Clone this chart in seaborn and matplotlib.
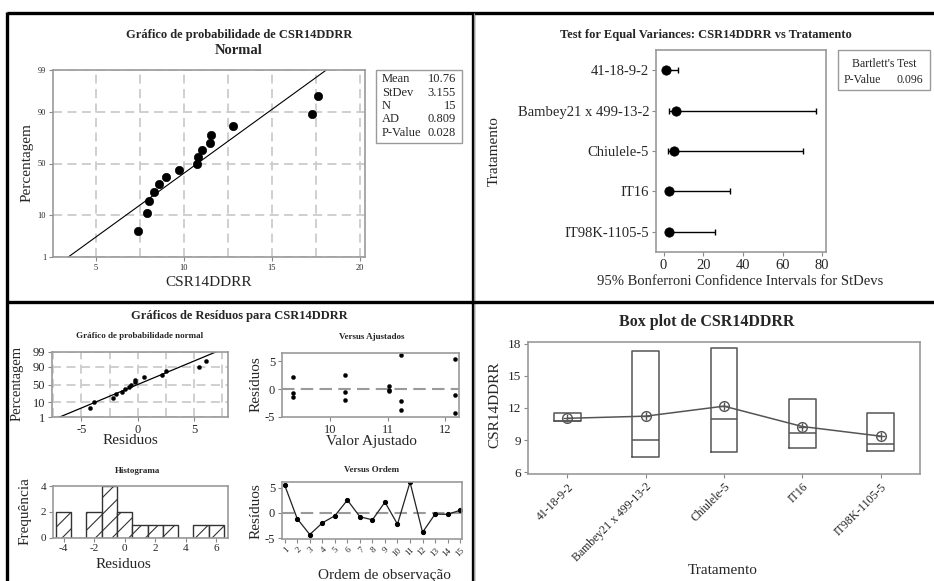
import numpy as np
import pandas as pd
import matplotlib
matplotlib.use("Agg")
import matplotlib.pyplot as plt
import seaborn as sns
from matplotlib.lines import Line2D
from matplotlib.patches import Rectangle
from statistics import NormalDist

# ---------------- data ----------------
ordem = list(range(1, 16))
tratamento = (["Chiulele-5"] * 3 + ["IT16"] * 3 + ["IT98K-1105-5"] * 3
              + ["Bambey21 x 499-13-2"] * 3 + ["41-18-9-2"] * 3)
csr = [17.6, 11.0, 7.9, 8.3, 9.7, 12.8, 8.6, 8.0, 11.5, 9.0, 17.3, 7.4, 10.8, 10.75, 11.55]
categorias = ["41-18-9-2", "Bambey21 x 499-13-2", "Chiulele-5", "IT16", "IT98K-1105-5"]

sd_est = [1.3, 6.2, 5.5, 3.0, 2.8]
sd_low = [0.3, 2.7, 2.3, 1.5, 1.5]
sd_high = [7.3, 76.8, 70.3, 33.6, 25.7]
bartlett_p = "0.096"

stats_labels = ["Mean", "StDev", "N", "AD", "P-Value"]
stats_values = ["10.76", "3.155", "15", "0.809", "0.028"]
fit_mean = 10.76
fit_sd = 3.155

pct_ticks = [1, 10, 50, 90, 99]
hist_edges = [-4.5, -3.5, -2.5, -1.5, -0.5, 0.5, 1.5, 2.5, 3.5, 4.5, 5.5, 6.5]

# ---------------- derived ----------------
df = pd.DataFrame({"Ordem": ordem, "Tratamento": tratamento, "CSR14DDRR": csr})
df["Ajustado"] = df.groupby("Tratamento")["CSR14DDRR"].transform("mean")
df["Residuo"] = df["CSR14DDRR"] - df["Ajustado"]
nd = NormalDist()
n = len(df)
ranks = [(i - 0.3) / (n + 0.4) for i in range(1, n + 1)]
zr = np.array([nd.inv_cdf(p) for p in ranks])
ztick = [nd.inv_cdf(p / 100) for p in pct_ticks]
zlo, zhi = nd.inv_cdf(0.01), nd.inv_cdf(0.99)

# ---------------- style ----------------
sns.set_style("white")
plt.rcParams["font.family"] = ["Liberation Serif", "DejaVu Serif"]
plt.rcParams["hatch.linewidth"] = 0.8
plt.rcParams["axes.unicode_minus"] = False
W, H = 934, 581
fig = plt.figure(figsize=(W / 100, H / 100), dpi=100)


def rect(l, t, r, b):
    return [l / W, 1 - b / H, (r - l) / W, (b - t) / H]


def ftext(x, y, s, **kw):
    kw.setdefault("ha", "center")
    kw.setdefault("va", "center")
    fig.text(x / W, 1 - y / H, s, **kw)


def style_ax(ax, fs=9):
    for sp in ax.spines.values():
        sp.set_color("#9a9a9a")
        sp.set_linewidth(1.2)
    ax.tick_params(axis="both", length=3, width=0.8, color="#888888",
                   labelsize=fs, pad=2, bottom=True, left=True)
    ax.set_xlabel("")
    ax.set_ylabel("")


GRID = dict(color="#cccccc", linestyle=(0, (5, 3)), linewidth=1.3, zorder=0)

# ======== Top-left: normal probability plot ========
ax1 = fig.add_axes(rect(53, 70, 365, 257))
xs = np.sort(df["CSR14DDRR"].values)
for gx in np.arange(5, 20.1, 2.5):
    ax1.axvline(gx, **GRID)
for gz in ztick:
    ax1.axhline(gz, **GRID)
zline = np.linspace(-3, 3, 50)
sns.lineplot(x=fit_mean + fit_sd * zline, y=zline, color="black", lw=0.8, ax=ax1, sort=False)
sns.scatterplot(x=xs, y=zr, color="black", s=36, edgecolor="black", ax=ax1, zorder=5)
ax1.set_xlim(2.55, 20.3)
ax1.set_ylim(zlo, zhi)
ax1.set_xticks([5, 10, 15, 20])
ax1.set_yticks(ztick)
ax1.set_yticklabels([str(p) for p in pct_ticks])
style_ax(ax1, fs=6)
ftext(239, 35, "Gráfico de probabilidade de CSR14DDRR", fontsize=9, fontweight="bold")
ftext(239, 50, "Normal", fontsize=10.5, fontweight="bold")
ftext(209, 283, "CSR14DDRR", fontsize=11)
ftext(27, 163, "Percentagem", fontsize=11, rotation=90)
fig.add_artist(Rectangle((376 / W, 1 - 143 / H), 86 / W, 73 / H, transform=fig.transFigure,
                         fill=False, edgecolor="#9a9a9a", lw=1))
for i, (lab, val) in enumerate(zip(stats_labels, stats_values)):
    yy = 79 + i * 13.5
    ftext(382, yy, lab, fontsize=9, ha="left")
    ftext(456, yy, val, fontsize=9, ha="right")

# ======== Top-right: test for equal variances ========
ax2 = fig.add_axes(rect(656, 50, 826, 252))
ypos = np.arange(len(categorias))
sd_est_a = np.array(sd_est)
ax2.errorbar(sd_est_a, ypos, xerr=[sd_est_a - np.array(sd_low), np.array(sd_high) - sd_est_a],
             fmt="none", ecolor="black", elinewidth=1, capsize=2.5, capthick=1)
sns.scatterplot(x=sd_est_a, y=ypos, color="black", s=45, edgecolor="black", ax=ax2, zorder=5)
ax2.set_xlim(-3.8, 81.9)
ax2.set_ylim(4.5, -0.5)
ax2.set_yticks(ypos)
ax2.set_yticklabels(categorias)
ax2.set_xticks([0, 20, 40, 60, 80])
style_ax(ax2, fs=10.5)
ftext(706, 35, "Test for Equal Variances: CSR14DDRR vs Tratamento", fontsize=9, fontweight="bold")
ftext(740, 282, "95% Bonferroni Confidence Intervals for StDevs", fontsize=10.5)
ftext(494, 151, "Tratamento", fontsize=11, rotation=90)
fig.add_artist(Rectangle((838 / W, 1 - 90 / H), 92 / W, 40 / H, transform=fig.transFigure,
                         fill=False, edgecolor="#9a9a9a", lw=1))
ftext(884, 64, "Bartlett's Test", fontsize=8.5)
ftext(844, 80, "P-Value", fontsize=8.5, ha="left")
ftext(923, 80, bartlett_p, fontsize=8.5, ha="right")

# ======== Bottom-left: residual plots ========
ftext(239, 316, "Gráficos de Resíduos para CSR14DDRR", fontsize=9, fontweight="bold")

# probability plot of residuals
ax3 = fig.add_axes(rect(52, 352, 228, 417))
rs = np.sort(df["Residuo"].values)
rsd = df["Residuo"].std()
for gx in np.arange(-7.5, 8.1, 2.5):
    ax3.axvline(gx, **GRID)
for gz in ztick:
    ax3.axhline(gz, **GRID)
sns.lineplot(x=rsd * zline, y=zline, color="black", lw=0.9, ax=ax3, sort=False)
sns.scatterplot(x=rs, y=zr, color="black", s=9, edgecolor="black", ax=ax3, zorder=5)
ax3.set_xlim(-7.6, 8.0)
ax3.set_ylim(zlo, zhi)
ax3.set_xticks([-5, 0, 5])
ax3.set_yticks(ztick)
ax3.set_yticklabels([str(p) for p in pct_ticks])
style_ax(ax3, fs=9)
ftext(140, 336, "Gráfico de probabilidade normal", fontsize=6.5, fontweight="bold")
ftext(130, 441, "Residuos", fontsize=11)
ftext(17, 383, "Percentagem", fontsize=10.5, rotation=90)

# versus fitted
ax4 = fig.add_axes(rect(282, 353, 459, 417))
ax4.axhline(0, color="#9a9a9a", linestyle=(0, (6, 3)), lw=1.5, zorder=0)
sns.scatterplot(data=df, x="Ajustado", y="Residuo", color="black", s=9, edgecolor="black", ax=ax4)
ax4.set_xlim(9.17, 12.24)
ax4.set_ylim(-5.05, 6.5)
ax4.set_xticks([10, 11, 12])
ax4.set_yticks([-5, 0, 5])
style_ax(ax4, fs=9)
ftext(372, 337, "Versus Ajustados", fontsize=6.5, fontweight="bold")
ftext(371, 441, "Valor Ajustado", fontsize=11)
ftext(256, 384, "Resíduos", fontsize=11, rotation=90)

# histogram
ax5 = fig.add_axes(rect(53, 486, 228, 537.5))
sns.histplot(data=df, x="Residuo", bins=hist_edges, stat="count", color="white",
             edgecolor="#333333", linewidth=1, hatch="//", ax=ax5)
for p in ax5.patches:
    p.set_facecolor("white")
    p.set_alpha(1)
ax5.set_xlim(-4.69, 6.76)
ax5.set_ylim(0, 4.03)
ax5.set_xticks([-4, -2, 0, 2, 4, 6])
ax5.set_yticks([0, 2, 4])
style_ax(ax5, fs=8)
ftext(138, 471, "Histograma", fontsize=6.5, fontweight="bold")
ftext(123, 564, "Residuos", fontsize=11)
ftext(25, 511, "Frequência", fontsize=11, rotation=90)

# versus order
ax6 = fig.add_axes(rect(282, 482, 462, 539))
ax6.axhline(0, color="#9a9a9a", linestyle=(0, (6, 3)), lw=1.5, zorder=0)
sns.lineplot(data=df, x="Ordem", y="Residuo", color="#222222", lw=0.9, marker="o",
             markersize=3, markeredgecolor="black", markerfacecolor="black", ax=ax6)
ax6.set_xlim(0.78, 15.15)
ax6.set_ylim(-5.15, 6.1)
ax6.set_xticks(ordem)
ax6.set_xticklabels([str(o) for o in ordem], rotation=45, ha="right", rotation_mode="anchor")
ax6.set_yticks([-5, 0, 5])
style_ax(ax6, fs=9)
ax6.tick_params(axis="x", labelsize=6.5)
ftext(372, 470, "Versus Ordem", fontsize=6.5, fontweight="bold")
ftext(384, 576, "Ordem de observação", fontsize=11)
ftext(256, 511, "Resíduos", fontsize=11, rotation=90)

# ======== Bottom-right: boxplot ========
ax7 = fig.add_axes(rect(528, 342, 920, 474))
bstats = []
for c in categorias:
    v = df.loc[df["Tratamento"] == c, "CSR14DDRR"].values
    bstats.append(dict(med=np.median(v), q1=v.min(), q3=v.max(),
                       whislo=v.min(), whishi=v.max(), fliers=[], label=c))
ax7.bxp(bstats, positions=list(range(len(categorias))), widths=0.34, showcaps=False,
        showfliers=False, boxprops=dict(color="#555555", lw=1.1),
        medianprops=dict(color="#555555", lw=1.1), whiskerprops=dict(color="#555555", lw=1.1))
means = [df.loc[df["Tratamento"] == c, "CSR14DDRR"].mean() for c in categorias]
pos = np.arange(len(categorias))
sns.lineplot(x=pos, y=means, color="#555555", lw=1.1, marker="o", markersize=7,
             markerfacecolor="none", markeredgecolor="#555555", markeredgewidth=1, ax=ax7)
ax7.scatter(pos, means, marker="+", s=40, color="#555555", linewidths=1, zorder=6)
ax7.set_xlim(-0.5, 4.5)
ax7.set_ylim(5.84, 18.15)
ax7.set_yticks([6, 9, 12, 15, 18])
ax7.set_xticks(pos)
ax7.set_xticklabels(categorias, rotation=45, ha="right", rotation_mode="anchor")
style_ax(ax7, fs=9.5)
ax7.tick_params(axis="x", labelsize=8.5)
ftext(707, 322, "Box plot de CSR14DDRR", fontsize=11.5, fontweight="bold")
ftext(723, 571, "Tratamento", fontsize=11)
ftext(495, 405, "CSR14DDRR", fontsize=11, rotation=90)

# ======== panel borders ========
def fline(x0, y0, x1, y1, lw=2.4, color="black"):
    fig.add_artist(Line2D([x0 / W, x1 / W], [1 - y0 / H, 1 - y1 / H], color=color, lw=lw,
                          transform=fig.transFigure, solid_capstyle="butt"))

fline(7, 13, 934, 13)
fline(7, 12, 7, 581)
fline(472.5, 13, 472.5, 581)
fline(474.5, 13, 474.5, 581, lw=0.8, color="#999999")
fline(7, 302, 934, 302)

fig.savefig("out.png", dpi=100)
